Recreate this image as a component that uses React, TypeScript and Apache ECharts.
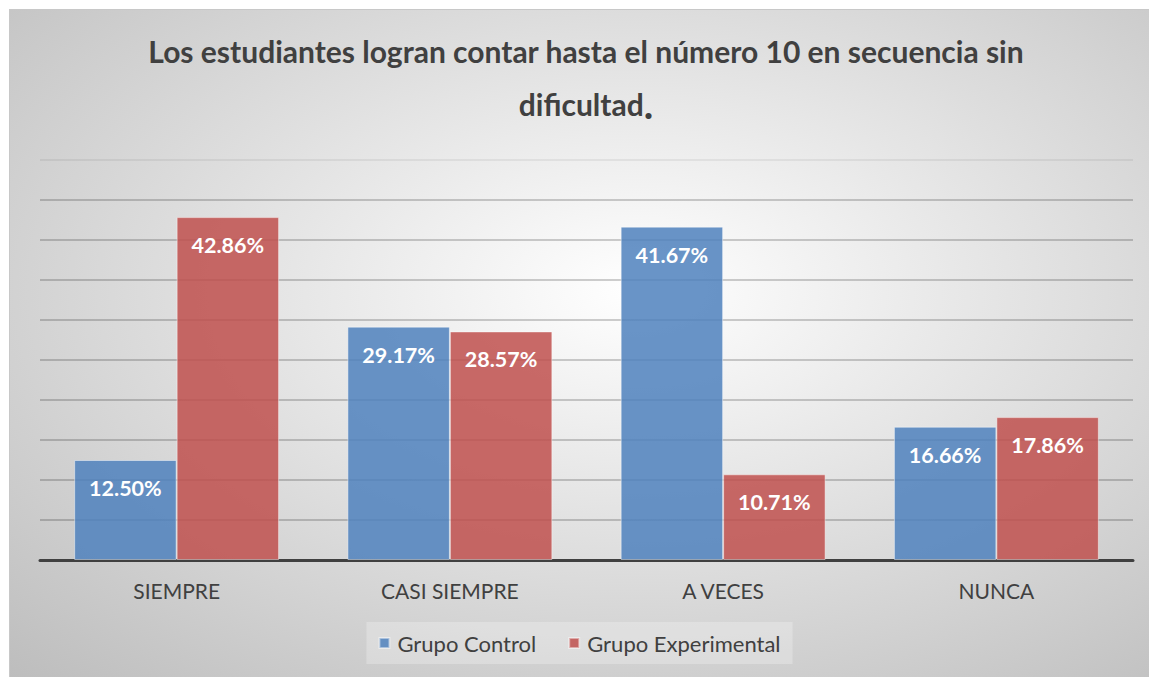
import React, { useEffect, useRef } from "react";
import * as echarts from "echarts";

const categories = ["SIEMPRE", "CASI SIEMPRE", "A VECES", "NUNCA"];
const grupoControl = [12.5, 29.17, 41.67, 16.66];
const grupoExperimental = [42.86, 28.57, 10.71, 17.86];
const seriesNames = ["Grupo Control", "Grupo Experimental"];
const titleLine1 = "Los estudiantes logran contar hasta el número 10 en secuencia sin";
const titleLine2 = "dificultad";

const FONT = "Lato, 'Open Sans', sans-serif";

export default function App() {
  const ref = useRef<HTMLDivElement>(null);
  useEffect(() => {
    if (!ref.current) return;
    const chart = echarts.init(ref.current, undefined, { renderer: "svg" });
    const gridColors = Array.from({ length: 11 }, (_, i) =>
      i === 10 ? "rgba(0,0,0,0.08)" : "rgba(0,0,0,0.25)"
    );
    const label = {
      show: true,
      position: "insideTop",
      distance: 17,
      color: "#ffffff",
      fontWeight: "bold",
      fontSize: 21.5,
      fontFamily: FONT,
      formatter: (p: any) => p.value.toFixed(2) + "%",
    };
    chart.setOption({
      animation: false,
      backgroundColor: {
        type: "radial",
        x: 0.55,
        y: 0.42,
        r: 0.8,
        colorStops: [
          { offset: 0, color: "#ffffff" },
          { offset: 1, color: "#bdbdbd" },
        ],
      },
      title: {
        text: titleLine1 + "\n" + titleLine2 + "{dot|.}",
        left: 571,
        textAlign: "center",
        top: 9,
        textStyle: {
          fontFamily: FONT,
          fontWeight: "bold",
          fontSize: 30,
          color: "#404040",
          lineHeight: 53,
          rich: {
            dot: {
              fontFamily: FONT,
              fontWeight: "bold",
              fontSize: 40,
              color: "#404040",
              lineHeight: 53,
            },
          },
        },
      },
      legend: {
        data: seriesNames,
        bottom: 13,
        left: "center",
        itemWidth: 10,
        itemHeight: 10,
        itemGap: 32,
        icon: "rect",
        padding: [10, 12],
        backgroundColor: "rgba(255,255,255,0.25)",
        textStyle: {
          fontFamily: FONT,
          fontSize: 22,
          color: "#404040",
          padding: [0, 0, 0, 3],
        },
      },
      grid: { left: 30, right: 16, top: 150, bottom: 117 },
      xAxis: {
        type: "category",
        data: categories,
        axisTick: { show: false },
        axisLine: { lineStyle: { color: "#404040", width: 3 } },
        axisLabel: {
          margin: 20,
          fontFamily: FONT,
          fontSize: 21,
          color: "#404040",
        },
      },
      yAxis: {
        type: "value",
        min: 0,
        max: 50,
        interval: 5,
        axisLabel: { show: false },
        axisLine: { show: false },
        axisTick: { show: false },
        splitLine: { lineStyle: { color: gridColors, width: 1.5 } },
      },
      series: [
        {
          name: seriesNames[0],
          type: "bar",
          data: grupoControl,
          barGap: "0%",
          barCategoryGap: "25%",
          itemStyle: {
            color: "rgba(79,129,189,0.85)",
            borderColor: "rgba(255,255,255,0.45)",
            borderWidth: 1,
          },
          label,
        },
        {
          name: seriesNames[1],
          type: "bar",
          data: grupoExperimental,
          barGap: "0%",
          barCategoryGap: "25%",
          itemStyle: {
            color: "rgba(192,80,77,0.85)",
            borderColor: "rgba(255,255,255,0.45)",
            borderWidth: 1,
          },
          label,
        },
      ],
    });
    return () => chart.dispose();
  }, []);
  return (
    <div
      ref={ref}
      style={{
        position: "absolute",
        left: 10,
        top: 10,
        width: 1139,
        height: 667,
        boxShadow: "0 0 0 1px #c8c8c8",
      }}
    />
  );
}
